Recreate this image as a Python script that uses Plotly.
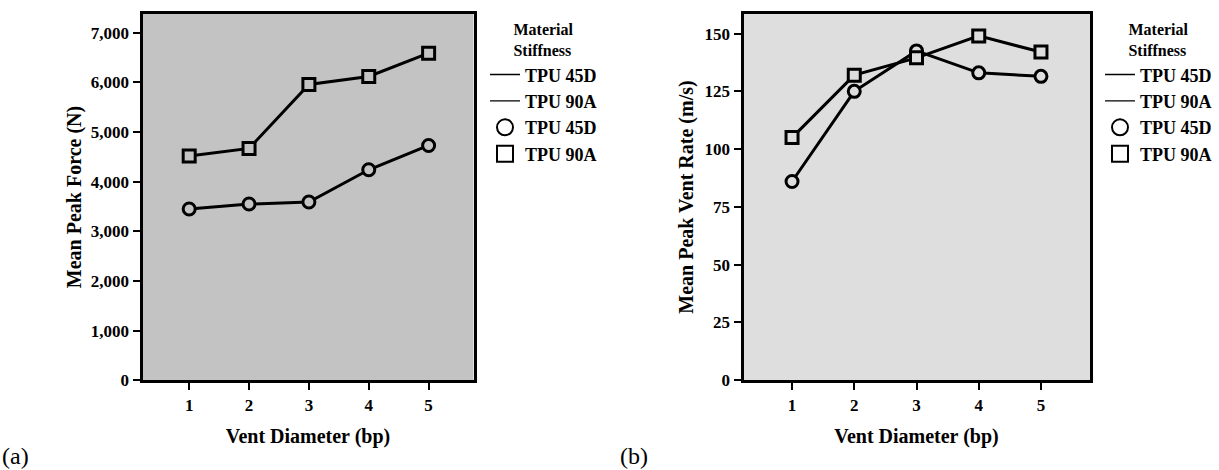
import plotly.graph_objects as go
from plotly.subplots import make_subplots

# Vent diameter categories (bp)
vent_diameter = [1, 2, 3, 4, 5]

# (a) Mean peak force (N)
force_tpu45d = [3450, 3550, 3590, 4240, 4730]
force_tpu90a = [4520, 4670, 5960, 6120, 6590]

# (b) Mean peak vent rate (m/s)
rate_tpu45d = [86, 125, 142.5, 133, 131.5]
rate_tpu90a = [105, 132, 139.5, 149, 142]

series_names = ["TPU 45D", "TPU 90A"]
force_ticks = [0, 1000, 2000, 3000, 4000, 5000, 6000, 7000]
rate_ticks = [0, 25, 50, 75, 100, 125, 150]

W, H = 1219, 470
SERIF = "Liberation Serif, Times New Roman, serif"
BG_A = "#c3c3c3"
BG_B = "#dedede"

fig = make_subplots(rows=1, cols=2)


def add_panel(fig, col, y45, y90, bg, legend_id):
    xref = "x" if col == 1 else "x2"
    yref = "y" if col == 1 else "y2"
    for yv, sym in ((y45, "circle"), (y90, "square")):
        fig.add_trace(go.Scatter(
            x=vent_diameter, y=yv, mode="lines+markers",
            line=dict(color="black", width=3),
            marker=dict(symbol=sym, size=12, color=bg,
                        line=dict(color="black", width=3)),
            showlegend=False, hoverinfo="x+y"), row=1, col=col)
    # legend entries: line styles, then marker symbols
    for name in series_names:
        fig.add_trace(go.Scatter(
            x=[None], y=[None], mode="lines", name=name,
            line=dict(color="black", width=1.3),
            legend=legend_id, xaxis=xref, yaxis=yref))
    for name, sym in zip(series_names, ["circle-open", "square-open"]):
        fig.add_trace(go.Scatter(
            x=[None], y=[None], mode="markers", name=name,
            marker=dict(symbol=sym, size=18, color="black",
                        line=dict(color="black", width=2)),
            legend=legend_id, xaxis=xref, yaxis=yref))


add_panel(fig, 1, force_tpu45d, force_tpu90a, BG_A, "legend")
add_panel(fig, 2, rate_tpu45d, rate_tpu90a, BG_B, "legend2")

axis_common = dict(
    showline=True, linecolor="black", linewidth=3, mirror=True,
    ticks="outside", ticklen=7, tickwidth=2, tickcolor="black",
    showgrid=False, zeroline=False,
    tickfont=dict(family=SERIF, size=17, color="black", weight="bold"),
)
title_font = dict(family=SERIF, size=20, color="black", weight="bold")

y_top = 1 - 14 / H
y_bot = 1 - 388.5 / H

fig.update_xaxes(axis_common)
fig.update_yaxes(axis_common)

fig.update_layout(
    xaxis=dict(domain=[142.5 / W, 473.5 / W], range=[0.22, 5.75],
               tickvals=vent_diameter,
               title=dict(text="Vent Diameter (bp)", font=title_font, standoff=16)),
    xaxis2=dict(domain=[743.5 / W, 1089.5 / W], range=[0.22, 5.78],
                tickvals=vent_diameter,
                title=dict(text="Vent Diameter (bp)", font=title_font, standoff=16)),
    yaxis=dict(domain=[y_bot, y_top], range=[0, 7385], tickvals=force_ticks,
               tickformat=",d",
               title=dict(text="Mean Peak Force (N)", font=title_font, standoff=4)),
    yaxis2=dict(domain=[y_bot, y_top], range=[0, 158.6], tickvals=rate_ticks,
                title=dict(text="Mean Peak Vent Rate (m/s)", font=title_font, standoff=6)),
)

legend_common = dict(
    yanchor="top", y=1 - 15 / H, xanchor="left",
    bgcolor="rgba(0,0,0,0)", borderwidth=0,
    font=dict(family=SERIF, size=18, color="black", weight="bold"),
    title=dict(text="Material<br>Stiffness", side="top center",
               font=dict(family=SERIF, size=16, color="black", weight="bold")),
    itemsizing="trace", tracegroupgap=0,
)
fig.update_layout(
    legend=dict(legend_common, x=485 / W),
    legend2=dict(legend_common, x=1100 / W),
)

# panel labels
for label, xpos in (("(a)", 0), ("(b)", 618)):
    fig.add_annotation(
        text=label, xref="paper", yref="paper", x=xpos / W, y=-11 / H,
        xanchor="left", yanchor="bottom", showarrow=False,
        font=dict(family=SERIF, size=24, color="black"))

fig.update_layout(
    width=W, height=H,
    margin=dict(l=0, r=0, t=0, b=0),
    paper_bgcolor="white",
    plot_bgcolor=BG_A,
)
# separate background for second panel
fig.add_shape(type="rect", xref="x2 domain", yref="y2 domain",
              x0=0, x1=1, y0=0, y1=1, fillcolor=BG_B, line_width=0, layer="below")

fig.write_html("out.html")
